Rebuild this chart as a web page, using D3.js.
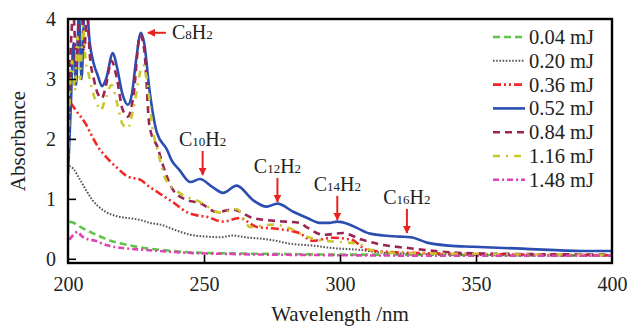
<!DOCTYPE html>
<html>
<head>
<meta charset="utf-8">
<script src="https://cdn.jsdelivr.net/npm/d3@7"></script>
<style>
  body { margin: 0; background: #fff; }
</style>
</head>
<body>
<script>
// spectra: [wavelength nm, absorbance]
const e004 = [[200.5,0.62],[202,0.6],[205,0.52],[209,0.43],[214,0.33],[218,0.27],[222,0.23],[228,0.18],[234,0.15],[244,0.11],[260,0.09],[280,0.08],[300,0.07],[330,0.07],[360,0.06],[400,0.06]];
const e020 = [[200.5,1.55],[202,1.5],[204.4,1.32],[207,1.12],[209,0.98],[211,0.88],[214,0.78],[218,0.71],[222,0.68],[226.5,0.65],[230,0.6],[234,0.57],[240,0.47],[245,0.4],[251,0.37],[256,0.36],[260.7,0.39],[265,0.36],[274,0.32],[282,0.25],[290,0.22],[297,0.18],[307,0.15],[316,0.1],[330,0.08],[360,0.06],[400,0.05]];
const e036 = [[201,2.6],[203,2.47],[206.5,2.25],[209,2.03],[211,1.87],[214,1.7],[218,1.52],[222,1.37],[226.5,1.32],[230,1.2],[234,1.08],[239,0.93],[244,0.77],[248,0.72],[251,0.7],[257,0.62],[263,0.68],[269.5,0.53],[276.8,0.5],[285,0.43],[290,0.3],[297,0.35],[304,0.32],[310,0.15],[320,0.11],[350,0.08],[400,0.06]];
const e052 = [[200,1.4],[201,2.5],[202,3.6],[203,2.9],[204,4.1],[205,3.0],[206,4.1],[207,4.1],[208,3.6],[209.5,3.25],[211,3.05],[212.5,2.88],[214,3.0],[216.5,3.43],[218,3.2],[220,2.75],[222,2.57],[223.5,2.75],[225,3.3],[226.8,3.77],[228,3.6],[230,2.8],[232.7,2.1],[236.4,1.82],[238,1.65],[241,1.48],[245,1.28],[248.5,1.33],[253,1.2],[257,1.1],[262,1.22],[268,0.98],[273,0.87],[277,0.92],[283,0.78],[288,0.68],[292.5,0.6],[296,0.6],[299,0.62],[303,0.58],[306,0.52],[311,0.42],[316,0.39],[322,0.37],[326,0.36],[332,0.27],[340,0.22],[349,0.2],[367,0.17],[389,0.13],[400,0.13]];
const e084 = [[200,2.0],[201,3.5],[202,4.1],[203,3.2],[204,3.9],[205,4.1],[206,3.5],[207,4.1],[208,3.4],[209.5,3.0],[211,2.75],[212.5,2.68],[214,2.9],[216,3.3],[218,3.0],[220,2.5],[222,2.37],[224,2.7],[226.5,3.73],[228,3.5],[230,2.2],[233,1.85],[235,1.55],[238.6,1.15],[243.7,0.98],[248.5,0.93],[254.8,0.78],[260.7,0.82],[268,0.68],[276.8,0.63],[285,0.6],[288,0.52],[294,0.4],[301,0.43],[308,0.32],[316,0.23],[325,0.18],[337,0.12],[350,0.09],[400,0.07]];
const e116 = [[200,1.5],[200.5,2.5],[201.5,3.3],[202.5,2.8],[203.5,3.7],[204.5,3.0],[205.5,3.9],[206.5,3.3],[207.5,3.1],[209,2.8],[211,2.55],[212,2.48],[214,2.7],[216,2.9],[218,2.6],[220,2.25],[222,2.18],[224,2.5],[227.6,3.23],[229,3.0],[231,2.2],[233,1.8],[236,1.32],[241,1.1],[248.5,0.95],[256,0.77],[262,0.83],[267,0.53],[275,0.57],[283,0.48],[285,0.43],[291.5,0.32],[300,0.28],[307,0.25],[311,0.15],[320,0.1],[350,0.08],[400,0.06]];
const e148 = [[200.5,0.32],[202,0.4],[203.5,0.45],[205,0.38],[207,0.33],[210,0.3],[214,0.23],[220,0.18],[228,0.15],[244,0.1],[260,0.08],[300,0.06],[350,0.05],[400,0.05]];

const labels = ["0.04 mJ", "0.20 mJ", "0.36 mJ", "0.52 mJ", "0.84 mJ", "1.16 mJ", "1.48 mJ"];
const colors = ["#5fc44a", "#555555", "#f42525", "#2a4db0", "#9a2452", "#c8c82a", "#dd45b4"];
const dashes = ["7,4", "1.6,1.6", "8,3,2,3,2,3", null, "7,5", "7,6,2,6", "6,3,2,3"];
const series = [e004, e020, e036, e052, e084, e116, e148];

// peak annotations: [subscript, wavelength, absorbance at arrow tip]
const peaks = [["10", 249.5, 1.4], ["12", 277, 0.95], ["14", 299, 0.65], ["16", 324.6, 0.43]];
const c8peak = [226.8, 3.77];

const xTicks = [200, 250, 300, 350, 400];
const yTicks = [0, 1, 2, 3, 4];

const serif = "'Liberation Serif', 'DejaVu Serif', 'Times New Roman', serif";
const width = 628, height = 328;
const x = d3.scaleLinear().domain([200, 400]).range([68, 612]);
const y = d3.scaleLinear().domain([-0.07, 4]).range([263, 19]);

const svg = d3.select("body").append("svg")
  .attr("width", width)
  .attr("height", height)
  .attr("font-family", serif)
  .style("font-family", serif);

const defs = svg.append("defs");
defs.append("clipPath").attr("id", "plot")
  .append("rect")
  .attr("x", x(200)).attr("y", y(4))
  .attr("width", x(400) - x(200)).attr("height", y(-0.07) - y(4));

defs.append("marker")
  .attr("id", "head")
  .attr("viewBox", "0 0 10 10")
  .attr("refX", 9).attr("refY", 5)
  .attr("markerWidth", 4).attr("markerHeight", 4)
  .attr("orient", "auto")
  .append("path").attr("d", "M0,0L10,5L0,10z").attr("fill", "#e8231f");

const line = d3.line()
  .x(d => x(d[0]))
  .y(d => y(d[1]))
  .curve(d3.curveMonotoneX);

svg.append("g")
  .attr("clip-path", "url(#plot)")
  .selectAll("path")
  .data(series)
  .join("path")
  .attr("fill", "none")
  .attr("stroke", (d, i) => colors[i])
  .attr("stroke-width", (d, i) => i == 1 ? 2 : 2.6)
  .attr("stroke-dasharray", (d, i) => dashes[i])
  .attr("d", line);

// axes, ticks inward
const xAxis = svg.append("g")
  .attr("transform", `translate(0,${y(-0.07)})`)
  .call(d3.axisBottom(x).tickValues(xTicks).tickFormat(d3.format("d")).tickSize(-8).tickPadding(14));
const yAxis = svg.append("g")
  .attr("transform", `translate(${x(200)},0)`)
  .call(d3.axisLeft(y).tickValues(yTicks).tickFormat(d3.format("d")).tickSize(-8).tickPadding(12));
[xAxis, yAxis].forEach(a => {
  a.attr("font-family", serif).attr("font-size", 20);
  a.select(".domain").remove();
  a.selectAll("line").attr("stroke", "#000").attr("stroke-width", 1.6);
  a.selectAll("text").attr("fill", "#222").style("font-family", serif);
});
xAxis.selectAll(".tick").filter(d => d == 200 || d == 400).select("line").remove();
yAxis.selectAll(".tick").filter(d => d == 4).select("line").remove();

svg.append("rect")
  .attr("x", x(200)).attr("y", y(4))
  .attr("width", x(400) - x(200)).attr("height", y(-0.07) - y(4))
  .attr("fill", "none").attr("stroke", "#000").attr("stroke-width", 2.4);

svg.append("text")
  .attr("x", (x(200) + x(400)) / 2).attr("y", 321)
  .attr("text-anchor", "middle").attr("font-size", 21).attr("fill", "#222")
  .text("Wavelength /nm");
svg.append("text")
  .attr("transform", `translate(25,${(y(4) + y(-0.07)) / 2}) rotate(-90)`)
  .attr("text-anchor", "middle").attr("font-size", 21).attr("fill", "#222")
  .text("Absorbance");

// legend
const legend = svg.append("g");
labels.forEach((lab, i) => {
  const ly = 37 + i * 23.8;
  legend.append("line")
    .attr("x1", 493).attr("x2", 525).attr("y1", ly).attr("y2", ly)
    .attr("stroke", colors[i]).attr("stroke-width", i == 1 ? 2 : 2.6)
    .attr("stroke-dasharray", dashes[i]);
  legend.append("text")
    .attr("x", 529).attr("y", ly + 7)
    .attr("font-size", 20.5).attr("fill", "#222")
    .text(lab);
});

// formula labels
function formula(g, px, py, sub, anchor) {
  const t = g.append("text").attr("x", px).attr("y", py)
    .attr("font-size", 20).attr("fill", "#222").attr("text-anchor", anchor);
  t.append("tspan").text("C");
  t.append("tspan").attr("font-size", 13).text(sub);
  t.append("tspan").text("H");
  t.append("tspan").attr("font-size", 13).text("2");
}

const notes = svg.append("g");
peaks.forEach(p => {
  const px = x(p[1]), tip = y(p[2]);
  notes.append("line")
    .attr("x1", px).attr("x2", px).attr("y1", tip - 24).attr("y2", tip)
    .attr("stroke", "#e8231f").attr("stroke-width", 2)
    .attr("marker-end", "url(#head)");
  formula(notes, px, tip - 29, p[0], "middle");
});

const c8x = x(c8peak[0]) + 7, c8y = y(c8peak[1]);
notes.append("line")
  .attr("x1", c8x + 18).attr("x2", c8x).attr("y1", c8y).attr("y2", c8y)
  .attr("stroke", "#e8231f").attr("stroke-width", 2)
  .attr("marker-end", "url(#head)");
formula(notes, c8x + 24, c8y + 6, "8", "start");
</script>
</body>
</html>
